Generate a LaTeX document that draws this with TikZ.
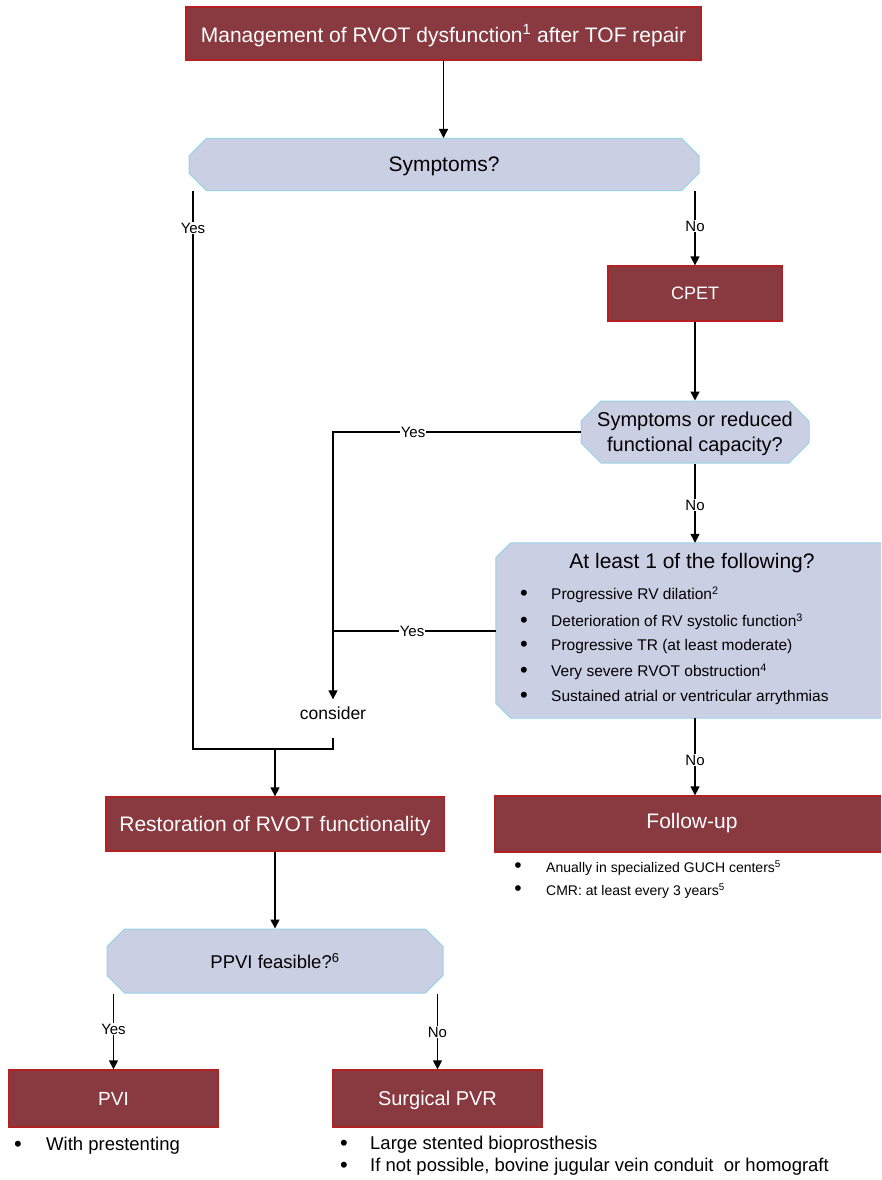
\documentclass[tikz,border=0pt]{standalone}
\usepackage{fontspec}
\setmainfont{Liberation Sans}
\usetikzlibrary{shapes.misc,arrows.meta}
\definecolor{boxred}{RGB}{137,57,64}
\definecolor{boxredline}{RGB}{178,34,34}
\definecolor{qfill}{RGB}{203,207,227}
\definecolor{qline}{RGB}{150,212,230}
\newcommand\fsz[2]{\fontsize{#1}{#2}\selectfont}
\tikzset{
  x=1pt, y=-1pt,
  redbox/.style={rectangle, draw=boxredline, fill=boxred, line width=1.3pt, text=white, inner sep=0pt, text depth=0pt},
  qbox/.style={chamfered rectangle, chamfered rectangle xsep=10pt, chamfered rectangle ysep=10pt,
    draw=qline, fill=qfill, line width=1pt, text=black, inner sep=0pt, text depth=0pt},
  qshape/.style={draw=qline, fill=qfill, line width=1pt},
  conn/.style={line width=1.4pt, draw=black},
  arr/.style={conn, -{Triangle[length=9pt,width=9pt]}},
  lbl/.style={fill=white, inner sep=1pt, font=\fsz{15pt}{17pt}},
  bul/.style={inner sep=0pt},
  itm/.style={inner sep=0pt, anchor=west},
}
\begin{document}
\begin{tikzpicture}
\useasboundingbox (0,0) rectangle (881,1180);
\clip (0,0) rectangle (881,1180);

% boxes
\node[redbox, minimum width=515pt, minimum height=53pt, font=\fsz{21pt}{25pt}] (top) at (443.5,33.5)
  {Management of RVOT dysfunction\textsuperscript{1} after TOF repair};
\node[qbox, minimum width=510pt, minimum height=52pt, font=\fsz{21pt}{25pt}] (sym) at (444,164.5) {Symptoms?};
\node[redbox, minimum width=174pt, minimum height=55pt, font=\fsz{18pt}{22pt}] (cpet) at (695,293.5) {CPET};
\node[qbox, minimum width=228pt, minimum height=62pt, align=center, font=\fsz{20pt}{25pt}] (symred) at (695,432)
  {Symptoms or reduced\\functional capacity?};
\node[inner sep=0pt, minimum width=390pt, minimum height=175pt] (atl) at (691,630.5) {};
\path[qshape] ([xshift=15pt]atl.north west) -- (atl.north east) -- (atl.south east)
  -- ([xshift=15pt]atl.south west) -- ([yshift=15pt]atl.south west)
  -- ([yshift=-15pt]atl.north west) -- cycle;
\node[font=\fsz{21pt}{25pt}, inner sep=0pt] (atltitle) at (692,563) {At least 1 of the following?};
\node[redbox, minimum width=390pt, minimum height=56pt] (fu) at (690,824) {};
\node[text=white, font=\fsz{21pt}{25pt}, inner sep=0pt] (futext) at (692,823) {Follow-up};
\node[font=\fsz{17.5pt}{20pt}, inner sep=0pt] (cons) at (333,713) {consider};
\node[redbox, minimum width=338pt, minimum height=54pt, font=\fsz{21pt}{25pt}] (rest) at (275,824) {Restoration of RVOT functionality};
\node[qbox, minimum width=336pt, minimum height=64pt, font=\fsz{18.5pt}{22pt}] (ppvi) at (275,961) {PPVI feasible?\textsuperscript{6}};
\node[redbox, minimum width=209pt, minimum height=57pt, font=\fsz{19pt}{22pt}] (pvi) at (113.5,1098.5) {PVI};
\node[redbox, minimum width=209pt, minimum height=57pt, font=\fsz{20pt}{24pt}] (spvr) at (437.5,1098.5) {Surgical PVR};

% bullets in "at least" box
\begin{scope}[font=\fsz{15.5pt}{18pt}, bul/.append style={font=\fsz{22pt}{22pt}}]
\node[bul] (b1) at (524,595) {\textbullet};
\node[itm] (t1) at (551,595) {Progressive RV dilation\textsuperscript{2}};
\node[bul] (b2) at (524,622) {\textbullet};
\node[itm] (t2) at (551,622) {Deterioration of RV systolic function\textsuperscript{3}};
\node[bul] (b3) at (524,646) {\textbullet};
\node[itm] (t3) at (551,646) {Progressive TR (at least moderate)};
\node[bul] (b4) at (524,672) {\textbullet};
\node[itm] (t4) at (551,672) {Very severe RVOT obstruction\textsuperscript{4}};
\node[bul] (b5) at (524,697) {\textbullet};
\node[itm] (t5) at (551,697) {Sustained atrial or ventricular arrythmias};
\end{scope}

% follow-up bullets
\begin{scope}[font=\fsz{14pt}{17pt}, bul/.append style={font=\fsz{21pt}{21pt}}]
\node[bul] (fb1) at (518,868) {\textbullet};
\node[itm] (ft1) at (546,868) {Anually in specialized GUCH centers\textsuperscript{5}};
\node[bul] (fb2) at (518,891) {\textbullet};
\node[itm] (ft2) at (546,891) {CMR: at least every 3 years\textsuperscript{5}};
\end{scope}

% bottom bullets
\begin{scope}[font=\fsz{18.5pt}{22pt}, bul/.append style={font=\fsz{22pt}{22pt}}]
\node[bul] (pb1) at (18,1146) {\textbullet};
\node[itm] (pt1) at (46,1146) {With prestenting};
\node[bul] (sb1) at (344,1145) {\textbullet};
\node[itm] (st1) at (370,1145) {Large stented bioprosthesis};
\node[bul] (sb2) at (344,1167) {\textbullet};
\node[itm] (st2) at (370,1167) {If not possible, bovine jugular vein conduit\ \ or homograft};
\end{scope}

% junction coordinates
\coordinate (jl) at (193,749);
\coordinate (jr) at (333,749);
\coordinate (jy) at (333,432);
\coordinate (ja) at (333,631);

% connectors
\draw[arr] (top.south) -- (top.south |- sym.north);
\draw[conn, line width=1.1pt] (jl |- sym.south) -- (jl) -- (jr) -- ([yshift=11pt]jr);
\draw[arr] (rest.north |- jl) -- (rest.north);
\draw[arr] (cpet.north |- sym.south) -- (cpet.north);
\draw[arr] (cpet.south) -- (symred.north);
\draw[arr, line width=1.1pt] (symred.west) -- (jy) -- ([yshift=7pt]cons.north);
\draw[conn, line width=1.1pt] (atl.west |- ja) -- (ja);
\draw[arr] (symred.south) -- (symred.south |- atl.north);
\draw[arr] (symred.south |- atl.south) -- (symred.south |- fu.north);
\draw[arr] (rest.south) -- (ppvi.north);
\draw[arr] (pvi.north |- ppvi.south) -- (pvi.north);
\draw[arr] (spvr.north |- ppvi.south) -- (spvr.north);

% labels
\node[lbl] (l1) at (193,228) {Yes};
\node[lbl] (l2) at (695,226) {No};
\node[lbl] (l3) at (413,432) {Yes};
\node[lbl] (l4) at (695,505) {No};
\node[lbl] (l5) at (412,631) {Yes};
\node[lbl] (l6) at (695,760) {No};
\node[lbl] (l7) at (113.5,1029) {Yes};
\node[lbl] (l8) at (437.5,1032) {No};
\end{tikzpicture}
\end{document}
